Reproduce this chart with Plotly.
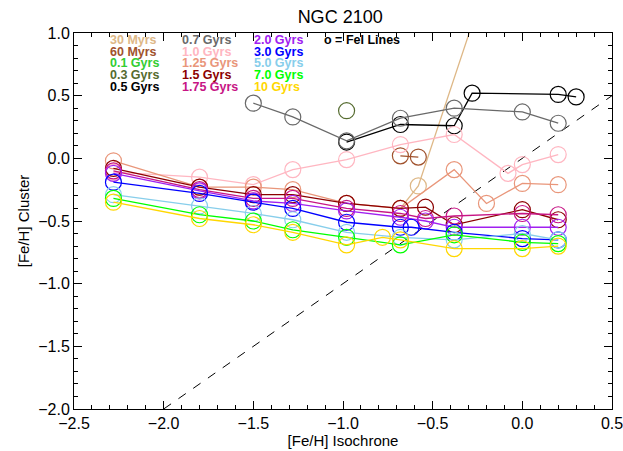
import plotly.graph_objects as go

# ---- data ----
x_30myr = [-0.68, -0.58, -0.18]
y_30myr = [-0.40, -0.22, 1.50]

x_60myr = [-0.68, -0.58]
y_60myr = [0.02, 0.01]

x_03gyr = [-0.98]
y_03gyr = [0.38]

x_05gyr = [-0.98, -0.68, -0.38, -0.28, 0.20, 0.30]
y_05gyr = [0.13, 0.27, 0.26, 0.52, 0.51, 0.49]

x_07gyr = [-1.50, -1.28, -0.98, -0.68, -0.38, 0.00, 0.20]
y_07gyr = [0.44, 0.33, 0.14, 0.32, 0.40, 0.37, 0.28]

x_10gyr = [-2.28, -1.80, -1.50, -1.28, -0.98, -0.68, -0.38, -0.08, 0.00, 0.20]
y_10gyr = [-0.11, -0.15, -0.21, -0.09, -0.01, 0.11, 0.19, -0.12, -0.05, 0.03]

x_125gyr = [-2.28, -1.80, -1.50, -1.28, -0.98, -0.68, -0.38, -0.20, 0.00, 0.20]
y_125gyr = [-0.02, -0.23, -0.23, -0.25, -0.36, -0.40, -0.09, -0.36, -0.20, -0.21]

x_15gyr = [-2.28, -1.80, -1.50, -1.28, -0.98, -0.68, -0.54, -0.38, 0.00, 0.20]
y_15gyr = [-0.08, -0.23, -0.29, -0.29, -0.36, -0.40, -0.39, -0.53, -0.41, -0.49]

x_175gyr = [-2.28, -1.80, -1.50, -1.28, -0.98, -0.68, -0.54, -0.38, 0.00, 0.20]
y_175gyr = [-0.10, -0.25, -0.32, -0.32, -0.40, -0.44, -0.48, -0.46, -0.44, -0.45]

x_20gyr = [-2.28, -1.80, -1.50, -1.28, -0.98, -0.68, -0.54, -0.38, 0.00, 0.20]
y_20gyr = [-0.12, -0.26, -0.34, -0.36, -0.42, -0.47, -0.50, -0.55, -0.55, -0.55]

x_30gyr = [-2.28, -1.80, -1.50, -1.28, -0.98, -0.68, -0.62, -0.38, 0.00, 0.20]
y_30gyr = [-0.19, -0.28, -0.35, -0.40, -0.51, -0.55, -0.55, -0.59, -0.64, -0.65]

x_50gyr = [-2.28, -1.80, -1.50, -1.28, -0.98, -0.68, -0.38, 0.00, 0.20]
y_50gyr = [-0.29, -0.38, -0.44, -0.49, -0.59, -0.63, -0.65, -0.60, -0.65]

x_70gyr = [-2.28, -1.80, -1.50, -1.28, -0.98, -0.68, -0.38, 0.00, 0.20]
y_70gyr = [-0.32, -0.45, -0.50, -0.57, -0.63, -0.69, -0.61, -0.67, -0.68]

x_100gyr = [-2.28, -1.80, -1.50, -1.28, -0.98, -0.78, -0.68, -0.38, 0.00, 0.20]
y_100gyr = [-0.35, -0.48, -0.53, -0.59, -0.69, -0.63, -0.65, -0.72, -0.72, -0.70]

one_to_one = [-2.0, 0.5]

legend_labels = [
    ["30 Myrs", "60 Myrs", "0.1 Gyrs", "0.3 Gyrs", "0.5 Gyrs"],
    ["0.7 Gyrs", "1.0 Gyrs", "1.25 Gyrs", "1.5 Gyrs", "1.75 Gyrs"],
    ["2.0 Gyrs", "3.0 Gyrs", "5.0 Gyrs", "7.0 Gyrs", "10 Gyrs"],
]
legend_colors = [
    ["#DEB887", "#A0522D", "#32CD32", "#556B2F", "#000000"],
    ["#696969", "#FFB6C1", "#E9967A", "#8B0000", "#C71585"],
    ["#A020F0", "#0000FF", "#87CEEB", "#00FF00", "#FFD700"],
]

series = [
    (x_30myr, y_30myr, "#DEB887"),
    (x_60myr, y_60myr, "#A0522D"),
    (x_03gyr, y_03gyr, "#556B2F"),
    (x_05gyr, y_05gyr, "#000000"),
    (x_07gyr, y_07gyr, "#696969"),
    (x_10gyr, y_10gyr, "#FFB6C1"),
    (x_125gyr, y_125gyr, "#E9967A"),
    (x_15gyr, y_15gyr, "#8B0000"),
    (x_175gyr, y_175gyr, "#C71585"),
    (x_20gyr, y_20gyr, "#A020F0"),
    (x_30gyr, y_30gyr, "#0000FF"),
    (x_50gyr, y_50gyr, "#87CEEB"),
    (x_70gyr, y_70gyr, "#00FF00"),
    (x_100gyr, y_100gyr, "#FFD700"),
]

FONT = "Liberation Sans, Arial, Helvetica"

fig = go.Figure()

fig.add_trace(go.Scatter(
    x=one_to_one, y=one_to_one, mode="lines",
    line=dict(color="black", width=1, dash="dash"), showlegend=False,
    hoverinfo="skip"))

for xs, ys, c in series:
    fig.add_trace(go.Scatter(
        x=xs, y=ys, mode="lines+markers",
        line=dict(color=c, width=1.3),
        marker=dict(symbol="circle-open", size=16, color=c, line=dict(width=1.2, color=c)),
        showlegend=False))

# legend text annotations
col_x = [-2.305, -1.905, -1.50]
row_y0 = 0.944
row_dy = 0.093
for ci in range(3):
    for ri in range(5):
        fig.add_annotation(
            x=col_x[ci], y=row_y0 - ri * row_dy, xref="x", yref="y",
            text="<b>%s</b>" % legend_labels[ci][ri], showarrow=False,
            xanchor="left", yanchor="middle", borderpad=0,
            font=dict(family=FONT, size=12.5, color=legend_colors[ci][ri]))
fig.add_annotation(
    x=-1.11, y=row_y0, xref="x", yref="y", text="<b>o = FeI Lines</b>", showarrow=False,
    xanchor="left", yanchor="middle", borderpad=0,
    font=dict(family=FONT, size=12.5, color="black"))

axis_common = dict(
    showgrid=False, zeroline=False, showline=True, linecolor="black", linewidth=1,
    mirror="allticks", ticks="inside", ticklen=8, tickcolor="black", tickwidth=1,
    tickfont=dict(family=FONT, size=16, color="black"),
    minor=dict(ticks="inside", ticklen=4, tickcolor="black", dtick=0.1, showgrid=False),
    dtick=0.5, tickformat=".1f", automargin=False, ticklabeloverflow="allow",
)

fig.update_layout(
    width=623, height=451,
    margin=dict(l=74, r=11, t=33, b=42),
    paper_bgcolor="white", plot_bgcolor="white",
    title=dict(text="NGC 2100", x=0.546, xanchor="center", y=0.962, yanchor="middle",
               font=dict(family=FONT, size=18, color="black")),
    xaxis=dict(range=[-2.5, 0.5], title=dict(text="[Fe/H] Isochrone", standoff=2,
               font=dict(family=FONT, size=15, color="black")),
               tick0=-2.5, **axis_common),
    yaxis=dict(range=[-2.0, 1.0], title=dict(text="[Fe/H] Cluster", standoff=4,
               font=dict(family=FONT, size=15, color="black")),
               tick0=-2.0, **axis_common),
)

# remove the browser's default 8px page margin so the figure fills the window exactly
fig.write_html("out.html", config={"displayModeBar": False},
               post_script="document.body.style.margin='0';")
